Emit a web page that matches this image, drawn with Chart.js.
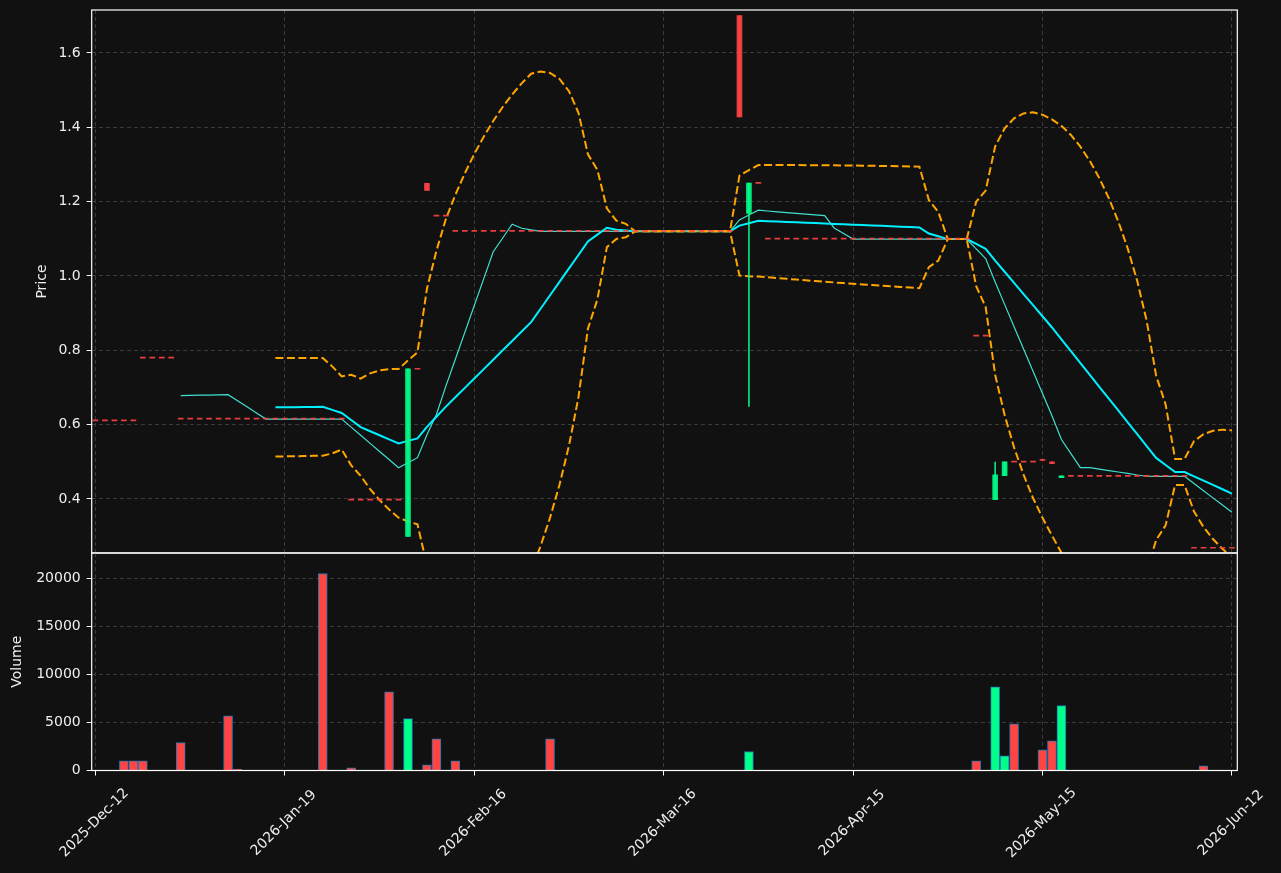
<!DOCTYPE html>
<html>
<head>
<meta charset="utf-8">
<title>Price / Volume</title>
<script src="https://cdn.jsdelivr.net/npm/chart.js@4.4.1/dist/chart.umd.min.js"></script>
<style>
  html, body { margin: 0; padding: 0; background: #111111; }
  #wrap { position: relative; width: 1281px; height: 873px; overflow: hidden; }
  canvas { position: absolute; left: 0; }
  #priceChart { top: 0; }
  #volumeChart { top: 548px; }
</style>
</head>
<body>
<div id="wrap">
  <canvas id="priceChart" width="1281" height="560"></canvas>
  <canvas id="volumeChart" width="1281" height="325"></canvas>
</div>
<script>
// Date ticks (index position on the x axis -> label)
const tickIdx = [0, 20, 40, 60, 80, 100, 120];
const tickLabels = ['2025-Dec-12', '2026-Jan-19', '2026-Feb-16', '2026-Mar-16', '2026-Apr-15', '2026-May-15', '2026-Jun-12'];

// Daily OHLC, one row of ten sessions per line
const open = [
    0.61, 0.61, 0.61, 0.61, 0.61, 0.779, 0.779, 0.779, 0.779, 0.615,
    0.615, 0.615, 0.615, 0.615, 0.615, 0.615, 0.615, 0.615, 0.615, 0.615,
    0.615, 0.615, 0.615, 0.615, 0.615, 0.615, 0.615, 0.397, 0.397, 0.397,
    0.397, 0.397, 0.397, 0.299, 0.749, 1.249, 1.161, 1.161, 1.12, 1.12,
    1.12, 1.12, 1.12, 1.12, 1.12, 1.12, 1.12, 1.12, 1.12, 1.12,
    1.12, 1.12, 1.12, 1.12, 1.12, 1.12, 1.12, 1.12, 1.12, 1.12,
    1.12, 1.12, 1.12, 1.12, 1.12, 1.12, 1.12, 1.12, 1.70, 1.168,
    1.249, 1.099, 1.099, 1.099, 1.099, 1.099, 1.099, 1.099, 1.099, 1.099,
    1.099, 1.099, 1.099, 1.099, 1.099, 1.099, 1.099, 1.099, 1.099, 1.099,
    1.099, 1.099, 1.099, 0.838, 0.838, 0.398, 0.463, 0.499, 0.499, 0.499,
    0.504, 0.50, 0.457, 0.461, 0.461, 0.461, 0.461, 0.461, 0.461, 0.461,
    0.461, 0.461, 0.461, 0.461, 0.461, 0.461, 0.2675, 0.2675, 0.2675, 0.2675,
    0.2675
];
const high = [
    0.61, 0.61, 0.61, 0.61, 0.61, 0.779, 0.779, 0.779, 0.779, 0.615,
    0.615, 0.615, 0.615, 0.615, 0.615, 0.615, 0.615, 0.615, 0.615, 0.615,
    0.615, 0.615, 0.615, 0.615, 0.615, 0.615, 0.615, 0.397, 0.397, 0.397,
    0.397, 0.397, 0.397, 0.75, 0.749, 1.249, 1.161, 1.161, 1.12, 1.12,
    1.12, 1.12, 1.12, 1.12, 1.12, 1.12, 1.12, 1.12, 1.12, 1.12,
    1.12, 1.12, 1.12, 1.12, 1.12, 1.12, 1.12, 1.12, 1.12, 1.12,
    1.12, 1.12, 1.12, 1.12, 1.12, 1.12, 1.12, 1.12, 1.70, 1.25,
    1.249, 1.099, 1.099, 1.099, 1.099, 1.099, 1.099, 1.099, 1.099, 1.099,
    1.099, 1.099, 1.099, 1.099, 1.099, 1.099, 1.099, 1.099, 1.099, 1.099,
    1.099, 1.099, 1.099, 0.838, 0.838, 0.499, 0.50, 0.499, 0.499, 0.499,
    0.504, 0.50, 0.462, 0.461, 0.461, 0.461, 0.461, 0.461, 0.461, 0.461,
    0.461, 0.461, 0.461, 0.461, 0.461, 0.461, 0.2675, 0.2675, 0.2675, 0.2675,
    0.2675
];
const low = [
    0.61, 0.61, 0.61, 0.61, 0.61, 0.779, 0.779, 0.779, 0.779, 0.615,
    0.615, 0.615, 0.615, 0.615, 0.615, 0.615, 0.615, 0.615, 0.615, 0.615,
    0.615, 0.615, 0.615, 0.615, 0.615, 0.615, 0.615, 0.397, 0.397, 0.397,
    0.397, 0.397, 0.397, 0.299, 0.749, 1.23, 1.161, 1.161, 1.12, 1.12,
    1.12, 1.12, 1.12, 1.12, 1.12, 1.12, 1.12, 1.12, 1.12, 1.12,
    1.12, 1.12, 1.12, 1.12, 1.12, 1.12, 1.12, 1.12, 1.12, 1.12,
    1.12, 1.12, 1.12, 1.12, 1.12, 1.12, 1.12, 1.12, 1.428, 0.649,
    1.249, 1.099, 1.099, 1.099, 1.099, 1.099, 1.099, 1.099, 1.099, 1.099,
    1.099, 1.099, 1.099, 1.099, 1.099, 1.099, 1.099, 1.099, 1.099, 1.099,
    1.099, 1.099, 1.099, 0.838, 0.838, 0.398, 0.463, 0.499, 0.499, 0.499,
    0.504, 0.495, 0.457, 0.461, 0.461, 0.461, 0.461, 0.461, 0.461, 0.461,
    0.461, 0.461, 0.461, 0.461, 0.461, 0.461, 0.2675, 0.2675, 0.2675, 0.2675,
    0.2675
];
const close = [
    0.61, 0.61, 0.61, 0.61, 0.61, 0.779, 0.779, 0.779, 0.779, 0.615,
    0.615, 0.615, 0.615, 0.615, 0.615, 0.615, 0.615, 0.615, 0.615, 0.615,
    0.615, 0.615, 0.615, 0.615, 0.615, 0.615, 0.615, 0.397, 0.397, 0.397,
    0.397, 0.397, 0.397, 0.75, 0.749, 1.23, 1.161, 1.161, 1.12, 1.12,
    1.12, 1.12, 1.12, 1.12, 1.12, 1.12, 1.12, 1.12, 1.12, 1.12,
    1.12, 1.12, 1.12, 1.12, 1.12, 1.12, 1.12, 1.12, 1.12, 1.12,
    1.12, 1.12, 1.12, 1.12, 1.12, 1.12, 1.12, 1.12, 1.428, 1.25,
    1.249, 1.099, 1.099, 1.099, 1.099, 1.099, 1.099, 1.099, 1.099, 1.099,
    1.099, 1.099, 1.099, 1.099, 1.099, 1.099, 1.099, 1.099, 1.099, 1.099,
    1.099, 1.099, 1.099, 0.838, 0.838, 0.465, 0.50, 0.499, 0.499, 0.499,
    0.504, 0.495, 0.462, 0.461, 0.461, 0.461, 0.461, 0.461, 0.461, 0.461,
    0.461, 0.461, 0.461, 0.461, 0.461, 0.461, 0.2675, 0.2675, 0.2675, 0.2675,
    0.2675
];
const volume = [
    0, 0, 0, 1000, 1000, 1000, 0, 0, 0, 2900,
    0, 0, 0, 0, 5700, 150, 0, 0, 0, 0,
    0, 0, 0, 0, 20500, 0, 0, 280, 0, 0,
    0, 8200, 0, 5400, 0, 590, 3300, 0, 1000, 0,
    0, 0, 0, 30, 0, 0, 0, 0, 3300, 0,
    0, 0, 0, 0, 0, 0, 0, 0, 0, 0,
    0, 0, 0, 0, 0, 0, 0, 0, 30, 1980,
    0, 30, 0, 0, 0, 0, 0, 0, 0, 0,
    0, 0, 0, 0, 0, 0, 0, 0, 0, 0,
    0, 0, 0, 1000, 0, 8700, 1530, 4870, 0, 0,
    2160, 3100, 6750, 0, 0, 0, 0, 0, 0, 0,
    0, 0, 0, 0, 0, 0, 30, 490, 0, 0,
    0
];

const priceTicks = [0.4, 0.6, 0.8, 1.0, 1.2, 1.4, 1.6];
const volumeTicks = [0, 5000, 10000, 15000, 20000];

// Colours
const upColor = 'rgba(0, 255, 136, 0.9)';
const downColor = 'rgba(255, 68, 68, 0.9)';
const volUp = '#00ff88';
const volDown = '#ff4444';
const textColor = '#eeeeee';
const gridColor = '#3a3a3a';

// Axis limits
const xMin = -0.4, xMax = 120.57;
const priceMin = 0.2547, priceMax = 1.7153;
const volMax = 22640;

Chart.defaults.font.family = '"DejaVu Sans", sans-serif';
Chart.defaults.font.size = 14;
Chart.defaults.color = textColor;

// Indicators derived from the closes (10/20 moving averages, 20-day bands)
function rollingMean(values, n) {
    return values.map((v, i) => {
        if (i < n - 1) return null;
        const win = values.slice(i - n + 1, i + 1);
        return win.reduce((a, b) => a + b, 0) / n;
    });
}

function rollingStd(values, n) {
    const means = rollingMean(values, n);
    return values.map((v, i) => {
        if (i < n - 1) return null;
        const win = values.slice(i - n + 1, i + 1);
        const m = means[i];
        return Math.sqrt(win.reduce((a, b) => a + (b - m) * (b - m), 0) / n);
    });
}

const ma10 = rollingMean(close, 10);
const ma20 = rollingMean(close, 20);
const sd20 = rollingStd(close, 20);
const upperBand = ma20.map((m, i) => m === null ? null : m + 2 * sd20[i]);
const lowerBand = ma20.map((m, i) => m === null ? null : m - 2 * sd20[i]);

const isUp = i => close[i] > open[i];
const candleColor = ctx => isUp(ctx.dataIndex) ? upColor : downColor;

const bodyData = close.map((c, i) => ({ x: i, y: [Math.min(open[i], c), Math.max(open[i], c)] }));
const wickData = close.map((c, i) => ({ x: i, y: high[i] > low[i] ? [low[i], high[i]] : null }));
const toPoints = arr => arr.map((v, i) => ({ x: i, y: v }));
const volumeData = volume.map((v, i) => ({ x: i, y: v > 0 ? v : null }));

// Draws the white frame round each panel
const framePlugin = {
    id: 'frame',
    afterDraw(chart) {
        const { ctx, chartArea: a } = chart;
        ctx.save();
        ctx.strokeStyle = '#ffffff';
        ctx.lineWidth = 1.2;
        ctx.strokeRect(a.left, a.top, a.right - a.left, a.bottom - a.top);
        ctx.restore();
    }
};

// Rotated date labels centred under each tick
const dateLabelsPlugin = {
    id: 'dateLabels',
    afterDraw(chart) {
        const { ctx, chartArea, scales } = chart;
        ctx.save();
        ctx.font = '14px "DejaVu Sans", sans-serif';
        ctx.fillStyle = textColor;
        ctx.textAlign = 'center';
        ctx.textBaseline = 'middle';
        tickIdx.forEach((v, k) => {
            const px = scales.x.getPixelForValue(v);
            ctx.save();
            ctx.translate(px - 1, chartArea.bottom + 52.5);
            ctx.rotate(-Math.PI / 4);
            ctx.fillText(tickLabels[k], 0, 0);
            ctx.restore();
        });
        ctx.restore();
    }
};

const setXTicks = scale => { scale.ticks = tickIdx.map(v => ({ value: v })); };

// Fix the axis box size and drop the label margins so the plot areas sit where the reference has them
function fixBox(size) {
    return scale => {
        if (scale.isHorizontal()) scale.height = size; else scale.width = size;
        scale.paddingTop = 0;
        scale.paddingBottom = 0;
        scale.paddingLeft = 0;
        scale.paddingRight = 0;
    };
}

// Price panel
new Chart(document.getElementById('priceChart'), {
    type: 'bar',
    data: {
        datasets: [
            {
                label: 'Body',
                data: bodyData,
                grouped: false,
                barThickness: 5,
                minBarLength: 1,
                backgroundColor: candleColor,
                order: 0
            },
            {
                label: 'Wick',
                data: wickData,
                grouped: false,
                barThickness: 1,
                backgroundColor: candleColor,
                order: 1
            },
            {
                type: 'line',
                label: 'Upper band',
                data: toPoints(upperBand),
                borderColor: '#ffa500',
                borderWidth: 2,
                borderDash: [8, 3.5],
                pointRadius: 0,
                order: 2
            },
            {
                type: 'line',
                label: 'Lower band',
                data: toPoints(lowerBand),
                borderColor: '#ffa500',
                borderWidth: 2,
                borderDash: [8, 3.5],
                pointRadius: 0,
                order: 2
            },
            {
                type: 'line',
                label: 'MA20',
                data: toPoints(ma20),
                borderColor: '#00f0ff',
                borderWidth: 2,
                pointRadius: 0,
                order: 3
            },
            {
                type: 'line',
                label: 'MA10',
                data: toPoints(ma10),
                borderColor: '#40e0d0',
                borderWidth: 1.2,
                pointRadius: 0,
                order: 4
            }
        ]
    },
    options: {
        responsive: false,
        animation: false,
        layout: { padding: { left: 0, right: 43.7, top: 10, bottom: 0 } },
        plugins: { legend: { display: false }, tooltip: { enabled: false } },
        scales: {
            x: {
                type: 'linear',
                min: xMin,
                max: xMax,
                offset: false,
                afterBuildTicks: setXTicks,
                afterFit: fixBox(7),
                ticks: { display: false, autoSkip: false },
                grid: { color: gridColor, drawTicks: false, offset: false },
                border: { display: false, dash: [4, 3] }
            },
            y: {
                min: priceMin,
                max: priceMax,
                afterBuildTicks: s => { s.ticks = priceTicks.map(v => ({ value: v })); },
                afterFit: fixBox(91.7),
                ticks: { color: textColor, padding: 6, callback: v => v.toFixed(1) },
                grid: { color: gridColor, tickColor: '#ffffff', tickLength: 5, tickBorderDash: [] },
                border: { display: false, dash: [4, 3] },
                title: { display: true, text: 'Price', color: textColor, padding: { top: 33.6, bottom: 0 } }
            }
        }
    },
    plugins: [framePlugin]
});

// Volume panel
new Chart(document.getElementById('volumeChart'), {
    type: 'bar',
    data: {
        datasets: [{
            label: 'Volume',
            data: volumeData,
            barThickness: 9,
            borderWidth: 1,
            borderColor: '#1f77b4',
            backgroundColor: ctx => isUp(ctx.dataIndex) ? volUp : volDown
        }]
    },
    options: {
        responsive: false,
        animation: false,
        layout: { padding: { left: 0, right: 43.7, top: 5, bottom: 0 } },
        plugins: { legend: { display: false }, tooltip: { enabled: false } },
        scales: {
            x: {
                type: 'linear',
                min: xMin,
                max: xMax,
                offset: false,
                afterBuildTicks: setXTicks,
                afterFit: fixBox(102.5),
                ticks: { display: false, autoSkip: false },
                grid: { color: gridColor, tickColor: '#ffffff', tickLength: 5, tickBorderDash: [], offset: false },
                border: { display: false, dash: [4, 3] }
            },
            y: {
                min: 0,
                max: volMax,
                afterBuildTicks: s => { s.ticks = volumeTicks.map(v => ({ value: v })); },
                afterFit: fixBox(91.7),
                ticks: { color: textColor, padding: 6, callback: v => String(v) },
                grid: { color: gridColor, tickColor: '#ffffff', tickLength: 5, tickBorderDash: [] },
                border: { display: false, dash: [4, 3] },
                title: { display: true, text: 'Volume', color: textColor, padding: { top: 8.6, bottom: 0 } }
            }
        }
    },
    plugins: [framePlugin, dateLabelsPlugin]
});
</script>
</body>
</html>
